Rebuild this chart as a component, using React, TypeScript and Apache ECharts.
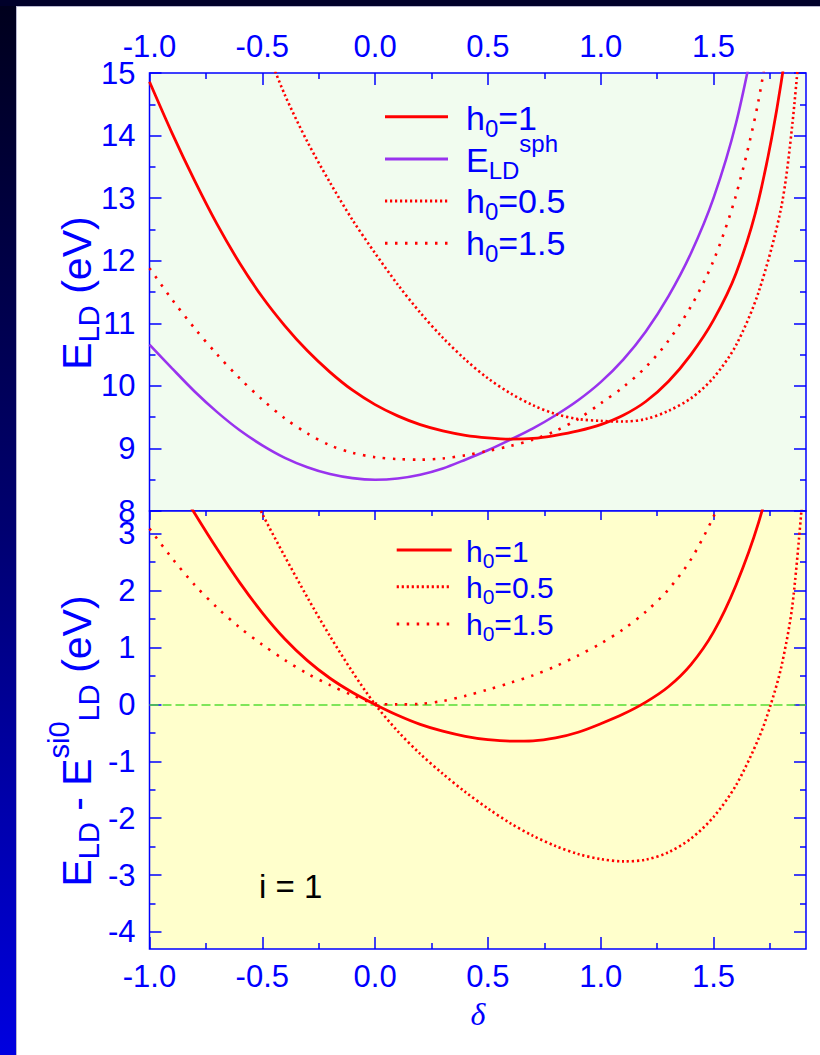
import React, { useEffect, useRef } from "react";
import * as echarts from "echarts";

const BLUE = "#0000ff";
const RED = "#ff0000";
const PURPLE = "#9933ee";
const ZERO_GREEN = "#55dd33";
const FONT = "Liberation Sans";

const X_MIN = -1;
const X_MAX = 1.91;
const xMajorTicks = [-1, -0.5, 0, 0.5, 1, 1.5];
const xMinorTicks = [-0.75, -0.25, 0.25, 0.75, 1.25, 1.75];
const yTopMajor = [8, 9, 10, 11, 12, 13, 14, 15];
const yTopMinor = [8.5, 9.5, 10.5, 11.5, 12.5, 13.5, 14.5];
const yBotMajor = [-4, -3, -2, -1, 0, 1, 2, 3];
const yBotMinor = [-3.5, -2.5, -1.5, -0.5, 0.5, 1.5, 2.5];

// ---------- top panel: E_LD (eV) ----------
const topSphX = [-1.0, -0.9, -0.8, -0.7, -0.6, -0.5, -0.4, -0.3, -0.2, -0.1, 0.0, 0.1, 0.2, 0.3, 0.4, 0.5, 0.6, 0.7, 0.8, 0.9, 1.0, 1.1, 1.2, 1.3, 1.4, 1.5, 1.6, 1.7];
const topSphY = [10.66, 10.28, 9.91, 9.58, 9.29, 9.05, 8.85, 8.7, 8.59, 8.525, 8.5, 8.52, 8.58, 8.68, 8.82, 8.97, 9.14, 9.32, 9.53, 9.77, 10.06, 10.42, 10.87, 11.43, 12.12, 13.0, 14.2, 15.9];

const topH1X = [-1.0, -0.9, -0.8, -0.7, -0.6, -0.5, -0.4, -0.3, -0.2, -0.1, 0.0, 0.1, 0.2, 0.3, 0.4, 0.5, 0.6, 0.7, 0.8, 0.9, 1.0, 1.1, 1.2, 1.3, 1.4, 1.5, 1.6, 1.7, 1.8, 1.9];
const topH1Y = [14.86, 14.04, 13.28, 12.58, 11.96, 11.42, 10.96, 10.56, 10.22, 9.93, 9.7, 9.52, 9.38, 9.28, 9.21, 9.17, 9.15, 9.16, 9.21, 9.28, 9.38, 9.53, 9.75, 10.07, 10.5, 11.05, 11.8, 12.97, 14.85, 17.6];

const topH05X = [-0.5, -0.4, -0.3, -0.2, -0.1, 0.0, 0.1, 0.2, 0.3, 0.4, 0.5, 0.6, 0.7, 0.8, 0.9, 1.0, 1.1, 1.2, 1.3, 1.4, 1.5, 1.6, 1.7, 1.8, 1.85, 1.9];
const topH05Y = [15.55, 14.65, 13.9, 13.25, 12.65, 12.12, 11.62, 11.17, 10.77, 10.42, 10.12, 9.88, 9.69, 9.55, 9.47, 9.44, 9.43, 9.47, 9.6, 9.8, 10.13, 10.65, 11.5, 12.85, 14.2, 16.2];

const topH15X = [-1.0, -0.9, -0.8, -0.7, -0.6, -0.5, -0.4, -0.3, -0.2, -0.1, 0.0, 0.1, 0.2, 0.3, 0.4, 0.5, 0.6, 0.7, 0.8, 0.9, 1.0, 1.1, 1.2, 1.3, 1.4, 1.5, 1.6, 1.7, 1.8];
const topH15Y = [11.88, 11.38, 10.92, 10.5, 10.12, 9.78, 9.48, 9.24, 9.05, 8.93, 8.86, 8.83, 8.82, 8.84, 8.89, 8.96, 9.04, 9.14, 9.28, 9.47, 9.72, 9.98, 10.3, 10.72, 11.27, 12.0, 13.05, 14.57, 16.8];

// ---------- bottom panel: E_LD - E_LD^si0 (eV) ----------
const botH1X = [-1.0, -0.9, -0.8, -0.7, -0.6, -0.5, -0.4, -0.3, -0.2, -0.1, 0.0, 0.1, 0.2, 0.3, 0.4, 0.5, 0.6, 0.7, 0.8, 0.9, 1.0, 1.1, 1.2, 1.3, 1.4, 1.5, 1.6, 1.7, 1.8];
const botH1Y = [4.75, 4.02, 3.36, 2.73, 2.14, 1.61, 1.15, 0.77, 0.46, 0.21, 0.0, -0.19, -0.35, -0.47, -0.56, -0.62, -0.645, -0.64, -0.59, -0.49, -0.34, -0.17, 0.04, 0.31, 0.7, 1.27, 2.1, 3.2, 4.7];

const botH05X = [-0.6, -0.5, -0.4, -0.3, -0.2, -0.1, 0.0, 0.1, 0.2, 0.3, 0.4, 0.5, 0.6, 0.7, 0.8, 0.9, 1.0, 1.1, 1.2, 1.3, 1.4, 1.5, 1.6, 1.7, 1.75, 1.8, 1.85, 1.9];
const botH05Y = [4.2, 3.35, 2.6, 1.88, 1.2, 0.57, 0.0, -0.47, -0.87, -1.22, -1.54, -1.83, -2.09, -2.31, -2.49, -2.63, -2.72, -2.76, -2.73, -2.6, -2.36, -1.98, -1.42, -0.6, -0.05, 0.65, 1.75, 3.9];

const botH15X = [-1.0, -0.9, -0.8, -0.7, -0.6, -0.5, -0.4, -0.3, -0.2, -0.1, 0.0, 0.1, 0.2, 0.3, 0.4, 0.5, 0.6, 0.7, 0.8, 0.9, 1.0, 1.1, 1.2, 1.3, 1.4, 1.5, 1.6];
const botH15Y = [3.09, 2.57, 2.1, 1.7, 1.35, 1.05, 0.78, 0.54, 0.34, 0.16, 0.02, 0.0, 0.01, 0.06, 0.15, 0.26, 0.38, 0.51, 0.67, 0.86, 1.07, 1.32, 1.63, 2.02, 2.55, 3.3, 4.25];

const zeroLevel = 0;

// ---------- text helpers ----------
let measureCtx: CanvasRenderingContext2D | null = null;
function textWidth(t: string, size: number): number {
  if (!measureCtx) measureCtx = document.createElement("canvas").getContext("2d");
  if (!measureCtx) return t.length * size * 0.55;
  measureCtx.font = `${size}px "${FONT}"`;
  return measureCtx.measureText(t).width;
}

type Run = { t: string; size: number; dy: number };

function runElements(runs: Run[], color: string) {
  let cx = 0;
  const els: any[] = [];
  for (const r of runs) {
    els.push({
      type: "text",
      x: cx,
      y: r.dy - 0.3465 * r.size,
      style: {
        text: r.t,
        fontSize: r.size,
        fontFamily: FONT,
        fill: color,
        textAlign: "left",
        align: "left",
        textVerticalAlign: "middle",
        verticalAlign: "middle",
      },
    });
    cx += textWidth(r.t, r.size);
  }
  return { els, width: cx };
}

function textGroup(runs: Run[], color: string, x: number, y: number) {
  const { els } = runElements(runs, color);
  return { type: "group", x, y, children: els, silent: true };
}

function rotatedTitle(runs: Run[], color: string, baselineX: number, centerY: number) {
  const { els, width } = runElements(runs, color);
  return {
    type: "group",
    x: baselineX,
    y: centerY + width / 2,
    rotation: Math.PI / 2,
    children: els,
    silent: true,
  };
}

function legendLine(x1: number, x2: number, y: number, color: string, dash: number[] | null, width: number) {
  return {
    type: "line",
    shape: { x1, y1: y, x2, y2: y },
    style: { stroke: color, lineWidth: width, lineDash: dash || undefined, lineCap: "butt" },
    silent: true,
  };
}

const DENSE = [2.2, 2.8];
const SPARSE = [2.5, 7.5];

function pairs(xs: number[], ys: number[]) {
  return xs.map((x, i) => [x, ys[i]]);
}

function xAxisDef(gridIndex: number, position: string, ticks: number[], len: number, labels: boolean, margin = 10) {
  return {
    type: "value",
    gridIndex,
    position,
    min: X_MIN,
    max: X_MAX,
    axisLine: { show: false, onZero: false },
    splitLine: { show: false },
    axisTick: { show: true, inside: true, length: len, customValues: ticks, lineStyle: { color: BLUE, width: 1.5 } },
    axisLabel: {
      show: labels,
      customValues: ticks,
      formatter: (v: number) => v.toFixed(1),
      color: BLUE,
      fontSize: 31,
      fontFamily: FONT,
      margin,
    },
  };
}

function yAxisDef(gridIndex: number, position: string, min: number, max: number, ticks: number[], len: number, labels: boolean) {
  return {
    type: "value",
    gridIndex,
    position,
    min,
    max,
    axisLine: { show: false, onZero: false },
    splitLine: { show: false },
    axisTick: { show: true, inside: true, length: len, customValues: ticks, lineStyle: { color: BLUE, width: 1.5 } },
    axisLabel: {
      show: labels,
      customValues: ticks,
      formatter: (v: number) => String(v),
      color: BLUE,
      fontSize: 31,
      fontFamily: FONT,
      margin: 14,
    },
  };
}

function lineSeries(name: string, xi: number, yi: number, xs: number[], ys: number[], color: string, dash: number[] | null, width: number, extra: any = {}) {
  return {
    name,
    type: "line",
    xAxisIndex: xi,
    yAxisIndex: yi,
    data: pairs(xs, ys),
    showSymbol: false,
    symbol: "none",
    smooth: 0.3,
    clip: true,
    lineStyle: { color, width, type: dash ? dash : "solid", cap: "butt" },
    silent: true,
    ...extra,
  };
}

export default function App() {
  const ref = useRef<HTMLDivElement>(null);

  useEffect(() => {
    if (!ref.current) return;
    const chart = echarts.init(ref.current, undefined, { renderer: "svg" });

    const GL = 149.5;
    const GW = 656.5;

    const graphics: any[] = [
      {
        type: "rect",
        shape: { x: 0, y: 0, width: 16, height: 1055 },
        style: {
          fill: new echarts.graphic.LinearGradient(0, 0, 0, 1, [
            { offset: 0, color: "#00001c" },
            { offset: 0.5, color: "#000070" },
            { offset: 1, color: "#0000e0" },
          ]),
        },
        silent: true,
        z: 0,
      },
      { type: "rect", shape: { x: 0, y: 0, width: 820, height: 6 }, style: { fill: "#00002a" }, silent: true, z: 1 },
      { type: "line", shape: { x1: 16.5, y1: 6, x2: 16.5, y2: 1055 }, style: { stroke: "#b8b8d0", lineWidth: 1 }, silent: true },
      { type: "line", shape: { x1: 16, y1: 6.5, x2: 820, y2: 6.5 }, style: { stroke: "#b8b8d0", lineWidth: 1 }, silent: true },

      // top legend
      legendLine(385, 448, 116.7, RED, null, 3),
      legendLine(385, 448, 159, PURPLE, null, 3),
      legendLine(385, 448, 201, RED, DENSE, 3),
      legendLine(385, 448, 243.3, RED, SPARSE, 3),
      textGroup([{ t: "h", size: 34, dy: 0 }, { t: "0", size: 24, dy: 7 }, { t: "=1", size: 34, dy: 0 }], BLUE, 466, 130),
      textGroup([{ t: "E", size: 34, dy: 0 }, { t: "LD", size: 24, dy: 7 }, { t: "sph", size: 24, dy: -20 }], BLUE, 466, 172),
      textGroup([{ t: "h", size: 34, dy: 0 }, { t: "0", size: 24, dy: 7 }, { t: "=0.5", size: 34, dy: 0 }], BLUE, 466, 213),
      textGroup([{ t: "h", size: 34, dy: 0 }, { t: "0", size: 24, dy: 7 }, { t: "=1.5", size: 34, dy: 0 }], BLUE, 466, 255),

      // bottom legend
      legendLine(396.7, 451.7, 550, RED, null, 3),
      legendLine(396.7, 451.7, 586.7, RED, DENSE, 3),
      legendLine(396.7, 451.7, 624, RED, SPARSE, 3),
      textGroup([{ t: "h", size: 30, dy: 0 }, { t: "0", size: 21, dy: 6 }, { t: "=1", size: 30, dy: 0 }], BLUE, 466, 561.7),
      textGroup([{ t: "h", size: 30, dy: 0 }, { t: "0", size: 21, dy: 6 }, { t: "=0.5", size: 30, dy: 0 }], BLUE, 466, 598),
      textGroup([{ t: "h", size: 30, dy: 0 }, { t: "0", size: 21, dy: 6 }, { t: "=1.5", size: 30, dy: 0 }], BLUE, 466, 635),

      textGroup([{ t: "i = 1", size: 33, dy: 0 }], "#000000", 259, 898),

      rotatedTitle(
        [
          { t: "E", size: 41, dy: 0 },
          { t: "LD", size: 29, dy: 8 },
          { t: " (eV)", size: 41, dy: 0 },
        ],
        BLUE,
        91,
        293
      ),
      rotatedTitle(
        [
          { t: "E", size: 41, dy: 0 },
          { t: "LD", size: 29, dy: 8 },
          { t: " - ", size: 41, dy: 0 },
          { t: "E", size: 41, dy: 0 },
          { t: "si0", size: 29, dy: -22 },
          { t: "LD", size: 29, dy: 8 },
          { t: " (eV)", size: 41, dy: 0 },
        ],
        BLUE,
        91,
        741
      ),
      {
        type: "text",
        x: 478,
        y: 1014,
        style: {
          text: "δ",
          fontSize: 32,
          fontFamily: "Liberation Serif",
          fontStyle: "italic",
          fill: BLUE,
          textAlign: "center",
          align: "center",
          textVerticalAlign: "middle",
          verticalAlign: "middle",
        },
        silent: true,
      },
    ];

    const option: any = {
      animation: false,
      backgroundColor: "#ffffff",
      grid: [
        { left: GL, top: 73, width: GW, height: 438, show: true, backgroundColor: "#f1fcef", borderColor: BLUE, borderWidth: 1.5, containLabel: false, outerBoundsMode: "none" },
        { left: GL, top: 511, width: GW, height: 438, show: true, backgroundColor: "#ffffcc", borderColor: BLUE, borderWidth: 1.5, containLabel: false, outerBoundsMode: "none" },
      ],
      xAxis: [
        xAxisDef(0, "top", xMajorTicks, 12, true, 11),
        xAxisDef(0, "top", xMinorTicks, 6, false),
        xAxisDef(1, "bottom", xMajorTicks, 12, true, 12),
        xAxisDef(1, "bottom", xMinorTicks, 6, false),
        xAxisDef(1, "top", xMajorTicks, 9, false),
        xAxisDef(1, "top", xMinorTicks, 5, false),
      ],
      yAxis: [
        yAxisDef(0, "left", 8, 15, yTopMajor, 12, true),
        yAxisDef(0, "left", 8, 15, yTopMinor, 6, false),
        yAxisDef(0, "right", 8, 15, yTopMajor, 12, false),
        yAxisDef(0, "right", 8, 15, yTopMinor, 6, false),
        yAxisDef(1, "left", -4.3, 3.4, yBotMajor, 12, true),
        yAxisDef(1, "left", -4.3, 3.4, yBotMinor, 6, false),
        yAxisDef(1, "right", -4.3, 3.4, yBotMajor, 12, false),
        yAxisDef(1, "right", -4.3, 3.4, yBotMinor, 6, false),
      ],
      series: [
        lineSeries("E_LD^sph", 0, 0, topSphX, topSphY, PURPLE, null, 2.6),
        lineSeries("h0=0.5", 0, 0, topH05X, topH05Y, RED, DENSE, 2.6),
        lineSeries("h0=1.5", 0, 0, topH15X, topH15Y, RED, SPARSE, 2.6),
        lineSeries("h0=1", 0, 0, topH1X, topH1Y, RED, null, 2.8),
        lineSeries("h0=0.5 diff", 2, 4, botH05X, botH05Y, RED, DENSE, 2.6),
        lineSeries("h0=1.5 diff", 2, 4, botH15X, botH15Y, RED, SPARSE, 2.6),
        lineSeries("h0=1 diff", 2, 4, botH1X, botH1Y, RED, null, 2.8, {
          markLine: {
            silent: true,
            symbol: ["none", "none"],
            label: { show: false },
            lineStyle: { color: ZERO_GREEN, type: [9, 4], width: 1.5 },
            data: [{ yAxis: zeroLevel }],
            z: 1,
          },
        }),
      ],
      graphic: graphics,
    };

    chart.setOption(option);
    return () => chart.dispose();
  }, []);

  return (
    <div
      ref={ref}
      style={{ position: "absolute", left: 0, top: 0, width: 820, height: 1055, background: "#ffffff" }}
    />
  );
}
